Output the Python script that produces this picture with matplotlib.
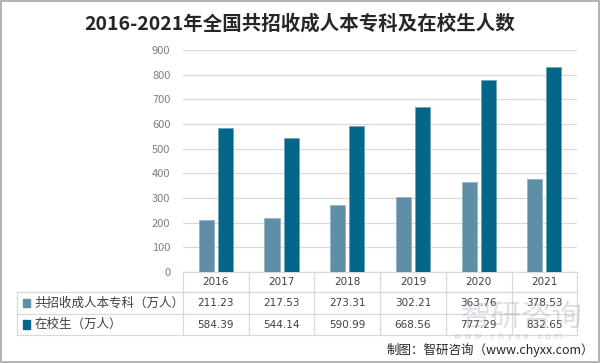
import matplotlib.pyplot as plt
import numpy as np
from matplotlib.transforms import blended_transform_factory
from matplotlib.patches import Rectangle

plt.rcParams['font.family'] = ['Noto Sans CJK SC', 'DejaVu Sans']

years = ["2016", "2017", "2018", "2019", "2020", "2021"]
zhaosheng = [211.23, 217.53, 273.31, 302.21, 363.76, 378.53]
zaixiao = [584.39, 544.14, 590.99, 668.56, 777.29, 832.65]
series_names = ["共招收成人本专科（万人）", "在校生（万人）"]
colors = ["#5E8FA6", "#04678A"]

fig = plt.figure(figsize=(6, 3.63), dpi=100)
ax = fig.add_axes([0.305, 0.2507, 0.657, 0.6116])

x = np.arange(len(years))
w = 0.23
ax.bar(x - 0.145, zhaosheng, w, color=colors[0], edgecolor="#8FB3C4", linewidth=0.5, zorder=3)
ax.bar(x + 0.145, zaixiao, w, color=colors[1], edgecolor="#6F9FB5", linewidth=0.5, zorder=3)

ax.set_xlim(-0.5, len(years) - 0.5)
ax.set_ylim(0, 900)
ax.set_yticks(range(0, 1000, 100))
ax.tick_params(axis='y', length=0, labelsize=8, labelcolor="#7F7F7F", pad=9)
ax.set_xticks([])
ax.grid(axis='y', color="#D9D9D9", linewidth=0.9, zorder=0)
for s in ax.spines.values():
    s.set_visible(False)

# data table under the axes
tr = blended_transform_factory(ax.transData, ax.transAxes)
tra = ax.transAxes
lc = "#D9D9D9"
row_h = [0.0, -0.09, -0.189, -0.284]
left = -0.421
ax.plot([0, 1], [0, 0], color=lc, lw=0.9, transform=tra, clip_on=False)
for yy in row_h[1:]:
    ax.plot([left, 1], [yy, yy], color=lc, lw=0.9, transform=tra, clip_on=False)
for i in range(len(years) + 1):
    ax.plot([i - 0.5, i - 0.5], [0, row_h[-1]], color=lc, lw=0.9, transform=tr, clip_on=False)
ax.plot([left, left], [row_h[1], row_h[-1]], color=lc, lw=0.9, transform=tra, clip_on=False)

for i, yr in enumerate(years):
    ax.text(i, (row_h[0] + row_h[1]) / 2, yr, transform=tr, ha='center', va='center',
            fontsize=7.5, color="#404040", family=['DejaVu Sans'], zorder=5)
    ax.text(i, (row_h[1] + row_h[2]) / 2, f"{zhaosheng[i]:.2f}", transform=tr, ha='center', va='center',
            fontsize=7.5, color="#404040", family=['DejaVu Sans'], zorder=5)
    ax.text(i, (row_h[2] + row_h[3]) / 2, f"{zaixiao[i]:.2f}", transform=tr, ha='center', va='center',
            fontsize=7.5, color="#404040", family=['DejaVu Sans'], zorder=5)

for k, name in enumerate(series_names):
    yc = (row_h[k + 1] + row_h[k + 2]) / 2
    ax.add_patch(Rectangle((left + 0.014, yc - 0.02), 0.018, 0.04, transform=tra,
                           color=colors[k], clip_on=False))
    ax.text(left + 0.044, yc, name, transform=tra, ha='left', va='center',
            fontsize=9, color="#404040")

# title
fig.text(0.5, 0.935, "2016-2021年全国共招收成人本专科及在校生人数", ha='center', va='center',
         fontsize=14, fontweight='bold', color="#262626")

# watermark (drawn behind the table text)
fig.text(0.87, 0.125, "智研咨询", ha='center', va='center', fontsize=22,
         color="#8C97A8", alpha=0.3, zorder=0)
fig.text(0.847, 0.072, "w w w . c h y x x . c o m", ha='center', va='center', fontsize=6.5,
         color="#8C97A8", alpha=0.4, family=['DejaVu Sans'], zorder=0)

# source
fig.text(0.99, 0.036, "制图：智研咨询（www.chyxx.com）", ha='right', va='center',
         fontsize=9, color="#262626")

# outer frame
fig.patches.append(Rectangle((0.001, 0.002), 0.997, 0.996, transform=fig.transFigure,
                             fill=False, edgecolor="#A6A6A6", linewidth=1.2))

fig.savefig("out.png", dpi=100)
